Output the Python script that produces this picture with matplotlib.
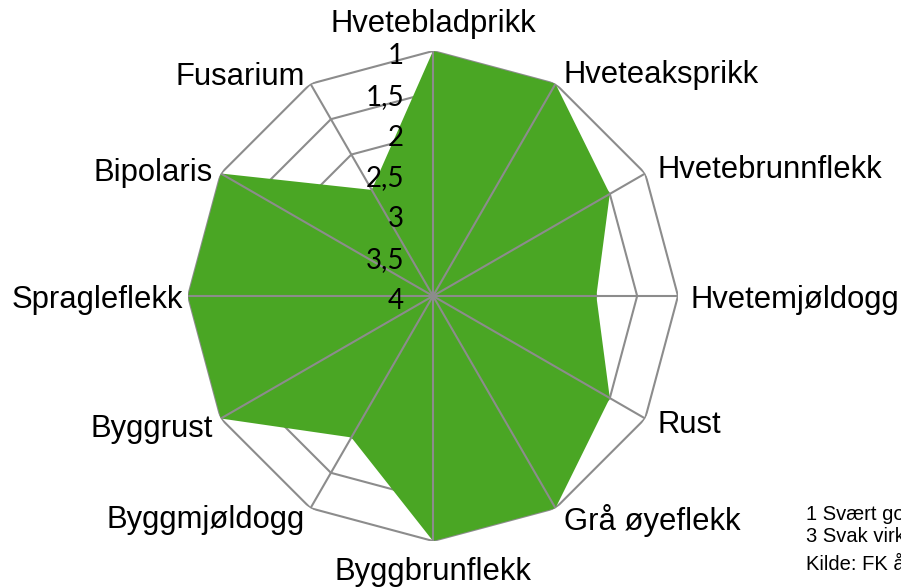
import numpy as np
import matplotlib.pyplot as plt

# Sykdommer rundt diagrammet (med klokka fra toppen)
sykdommer = ["Hvetebladprikk", "Hveteaksprikk", "Hvetebrunnflekk", "Hvetemjøldogg",
             "Rust", "Grå øyeflekk", "Byggbrunflekk", "Byggmjøldogg",
             "Byggrust", "Spragleflekk", "Bipolaris", "Fusarium"]
# 1 = svært god virkning (ytterst), 4 = ingen virkning (sentrum)
virkning = [1, 1, 1.5, 2, 1.5, 1, 1, 2, 1, 1, 1, 2.5]
nivaa = [1, 1.5, 2, 2.5, 3, 3.5, 4]
nivaa_tekst = ["1", "1,5", "2", "2,5", "3", "3,5", "4"]
merknad = ["1 Svært god virkning", "3 Svak virkning", "Kilde: FK årsrapport"]

GRONN = "#4aa624"
GRAA = "#8c8c8c"

fig = plt.figure(figsize=(9.01, 5.88), dpi=100)
R = 245
cx, cy = 433, 588 - 296
ax = fig.add_axes([(cx - R) / 901, (cy - R) / 588, 2 * R / 901, 2 * R / 588], polar=True)
ax.set_theta_zero_location("N")
ax.set_theta_direction(-1)
ax.set_ylim(0, 3)
ax.grid(False)
ax.spines["polar"].set_visible(False)
ax.set_xticks([])
ax.set_yticks([])
ax.patch.set_alpha(0)

n = len(sykdommer)
vinkler = np.linspace(0, 2 * np.pi, n, endpoint=False)
lukket = np.append(vinkler, vinkler[0])

def radius(v):
    return 4 - np.asarray(v, dtype=float)

# ringer (bak fyllet)
for v in nivaa[:-1]:
    ax.plot(lukket, np.full(n + 1, radius(v)), color=GRAA, lw=1.5, zorder=1)

r = radius(virkning)
ax.fill(lukket, np.append(r, r[0]), color=GRONN, lw=0, zorder=2)

# eiker over fyllet
for a in vinkler:
    ax.plot([a, a], [0, 3], color=GRAA, lw=1.5, zorder=3)

# kategorietiketter
forskyvning = [(0, 27, "center"), (8, 9, "left"), (12, 3, "left"), (13, -4, "left"),
               (12, -7, "left"), (8, -12, "left"), (0, -31, "center"), (-6, -12, "right"),
               (-8, -10, "right"), (-5, -4, "right"), (-8, 1, "right"), (-6, 7, "right")]
for navn, a, (dx, dy, ha) in zip(sykdommer, vinkler, forskyvning):
    ax.annotate(navn, xy=(a, 3), xytext=(dx, dy), textcoords="offset pixels",
                ha=ha, va="center", fontsize=22.3, family="Liberation Sans",
                annotation_clip=False, zorder=5)

# aksetall
for v, t in zip(nivaa, nivaa_tekst):
    ax.annotate(t, xy=(0, radius(v)), xytext=(-29, -5), textcoords="offset pixels",
                ha="right", va="center", fontsize=20, family="Lato",
                annotation_clip=False, zorder=5)

for t, y in zip(merknad, [515, 537, 563]):
    fig.text(806 / 901, 1 - y / 588, t, ha="left", va="center", fontsize=14.5,
             family="Liberation Sans")

fig.savefig("out.png", dpi=100)
